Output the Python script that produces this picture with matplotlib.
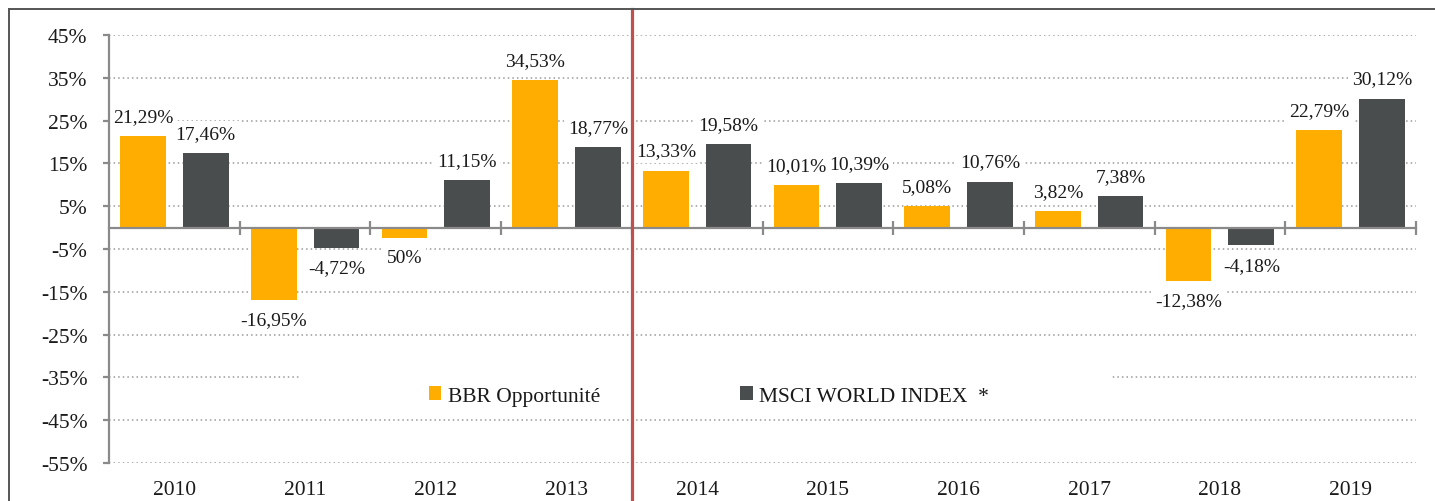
import matplotlib.pyplot as plt
from matplotlib.lines import Line2D
from matplotlib.patches import Patch, Rectangle
import numpy as np

# ── Data ──────────────────────────────────────────────────────────────────────
years = ["2010", "2011", "2012", "2013", "2014", "2015", "2016", "2017", "2018", "2019"]
bbr = [21.29, -16.95, -2.50, 34.53, 13.33, 10.01, 5.08, 3.82, -12.38, 22.79]
msci = [17.46, -4.72, 11.15, 18.77, 19.58, 10.39, 10.76, 7.38, -4.18, 30.12]
bbr_labels = ["21,29%", "-16,95%", "50%", "34,53%", "13,33%", "10,01%", "5,08%", "3,82%", "-12,38%", "22,79%"]
msci_labels = ["17,46%", "-4,72%", "11,15%", "18,77%", "19,58%", "10,39%", "10,76%", "7,38%", "-4,18%", "30,12%"]
yticks = list(range(-55, 46, 10))
series_names = ["BBR Opportunité", "MSCI WORLD INDEX  *"]

ORANGE = "#FFAE00"
GREY = "#4A4D4E"
AXIS = "#8A8A8A"
TEXT = "#1A1A1A"

plt.rcParams["font.family"] = ["Liberation Serif", "DejaVu Serif"]

fig = plt.figure(figsize=(14.35, 5.02), dpi=100)
ax = fig.add_axes([109 / 1435, 38 / 502, 1307 / 1435, 428 / 502])

x = np.arange(len(years))
w, off = 0.35, 0.24
ax.bar(x - off, bbr, width=w, color=ORANGE, zorder=2)
ax.bar(x + off, msci, width=w, color=GREY, zorder=2)

# value labels with white boxes (they cut the gridlines like in the original)
box = dict(facecolor="white", edgecolor="none", pad=2.5)
for xs, vals, labs in ((x - off, bbr, bbr_labels), (x + off, msci, msci_labels)):
    for xi, v, lab in zip(xs, vals, labs):
        up = v >= 0
        ax.annotate(lab, (xi, v), xytext=(0, 8 if up else -8), textcoords="offset points",
                    ha="center", va="bottom" if up else "top", fontsize=14,
                    color=TEXT, bbox=box, zorder=3)

# axes styling
ax.set_xlim(-0.5, 9.5)
ax.set_ylim(-55, 45)
ax.set_yticks(yticks)
ax.set_yticklabels([f"{t}%" for t in yticks], fontsize=15.5, color=TEXT)
ax.grid(axis="y", linestyle=(0, (1, 2)), color="#9A9A9A", linewidth=1.1)
ax.set_axisbelow(True)

for s in ("top", "right"):
    ax.spines[s].set_visible(False)
for s in ("left", "bottom"):
    ax.spines[s].set_color(AXIS)
    ax.spines[s].set_linewidth(1.6)
    ax.spines[s].set_zorder(3.5)
ax.spines["bottom"].set_position(("data", 0))
ax.tick_params(axis="y", length=4.5, width=1.6, color=AXIS, pad=11)
ax.set_xticks([])
ax.set_xticks(np.arange(0.5, 10, 1), minor=True)
ax.tick_params(axis="x", which="minor", direction="inout", length=10, width=1.6, color=AXIS)

# year labels at the bottom
for xi, yr in zip(x, years):
    ax.text(xi, -0.061, yr, transform=ax.get_xaxis_transform(), ha="center", va="center",
            fontsize=15.5, color=TEXT)

# legend with a white block behind it
ax.add_patch(Rectangle((0.96, -43.5), 6.2, 10.5, facecolor="white", edgecolor="none", zorder=1))
handles = [Patch(facecolor=ORANGE), Patch(facecolor=GREY)]
ax.legend(handles, series_names, ncol=2, loc="center", bbox_to_anchor=(0.459, 0.157),
          frameon=False, fontsize=15.5, handlelength=0.6, handleheight=0.6,
          handletextpad=0.3, columnspacing=6.5, labelcolor=TEXT)

# red separator between 2013 and 2014
ax.axvline(3.5, ymin=-0.09, ymax=1.061, color="#C0504D", linewidth=2.3, clip_on=False, zorder=4)

# outer frame (left and top edges)
fig.add_artist(Line2D([9 / 1435, 9 / 1435], [0, 1 - 10 / 502], color="#555555", linewidth=1.4))
fig.add_artist(Line2D([9 / 1435, 1], [1 - 10 / 502, 1 - 10 / 502], color="#555555", linewidth=1.4))

fig.savefig("out.png", dpi=100)
